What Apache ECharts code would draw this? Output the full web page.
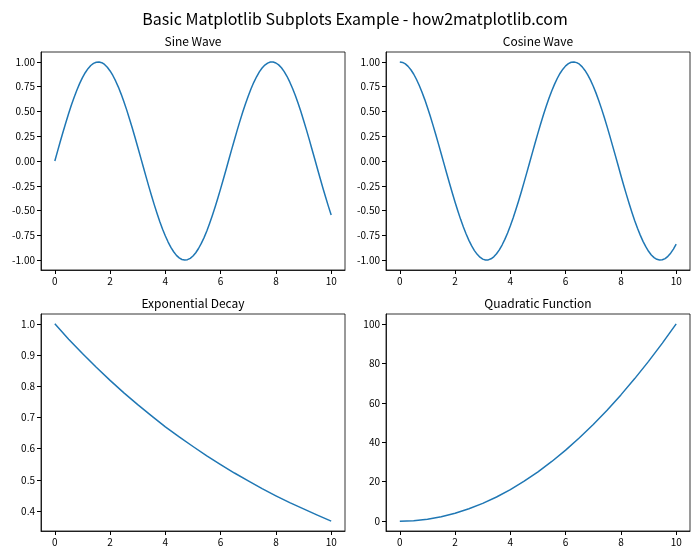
<!DOCTYPE html>
<html>
<head>
<meta charset="utf-8">
<script src="https://cdn.jsdelivr.net/npm/echarts@6/dist/echarts.min.js"></script>
<style>html,body{margin:0;padding:0;background:#fff;}#chart{width:700px;height:560px;}</style>
</head>
<body>
<div id="chart"></div>
<script>
// ---- data ----
var xFine = [0,0.1,0.2,0.3,0.4,0.5,0.6,0.7,0.8,0.9,1,1.1,1.2,1.3,1.4,1.5,1.6,1.7,1.8,1.9,2,2.1,2.2,2.3,2.4,2.5,2.6,2.7,2.8,2.9,3,3.1,3.2,3.3,3.4,3.5,3.6,3.7,3.8,3.9,4,4.1,4.2,4.3,4.4,4.5,4.6,4.7,4.8,4.9,5,5.1,5.2,5.3,5.4,5.5,5.6,5.7,5.8,5.9,6,6.1,6.2,6.3,6.4,6.5,6.6,6.7,6.8,6.9,7,7.1,7.2,7.3,7.4,7.5,7.6,7.7,7.8,7.9,8,8.1,8.2,8.3,8.4,8.5,8.6,8.7,8.8,8.9,9,9.1,9.2,9.3,9.4,9.5,9.6,9.7,9.8,9.9,10];
var sineY = [0,0.100,0.199,0.296,0.389,0.479,0.565,0.644,0.717,0.783,0.841,0.891,0.932,0.964,0.985,0.997,1.000,0.992,0.974,0.946,0.909,0.863,0.808,0.746,0.675,0.598,0.516,0.427,0.335,0.239,0.141,0.042,-0.058,-0.158,-0.256,-0.351,-0.443,-0.530,-0.612,-0.688,-0.757,-0.818,-0.872,-0.916,-0.952,-0.978,-0.994,-1.000,-0.996,-0.982,-0.959,-0.926,-0.883,-0.832,-0.773,-0.706,-0.631,-0.551,-0.465,-0.374,-0.279,-0.182,-0.083,0.017,0.117,0.215,0.312,0.405,0.494,0.578,0.657,0.729,0.794,0.850,0.899,0.938,0.968,0.988,0.999,0.999,0.989,0.970,0.941,0.902,0.855,0.798,0.734,0.663,0.585,0.501,0.412,0.319,0.223,0.124,0.025,-0.075,-0.174,-0.272,-0.366,-0.458,-0.544];
var cosineY = [1.000,0.995,0.980,0.955,0.921,0.878,0.825,0.765,0.697,0.622,0.540,0.454,0.362,0.267,0.170,0.071,-0.029,-0.129,-0.227,-0.323,-0.416,-0.505,-0.589,-0.666,-0.737,-0.801,-0.857,-0.904,-0.942,-0.971,-0.990,-0.999,-0.998,-0.987,-0.967,-0.936,-0.897,-0.848,-0.791,-0.726,-0.654,-0.575,-0.490,-0.401,-0.307,-0.211,-0.112,-0.012,0.087,0.187,0.284,0.378,0.469,0.554,0.635,0.709,0.776,0.835,0.886,0.927,0.960,0.983,0.997,1.000,0.993,0.977,0.950,0.914,0.869,0.816,0.754,0.685,0.608,0.526,0.439,0.347,0.251,0.153,0.054,-0.046,-0.146,-0.244,-0.339,-0.431,-0.519,-0.602,-0.679,-0.748,-0.811,-0.865,-0.911,-0.948,-0.975,-0.992,-1.000,-0.997,-0.985,-0.962,-0.930,-0.889,-0.839];
var xCoarse = [0,0.5,1,1.5,2,2.5,3,3.5,4,4.5,5,5.5,6,6.5,7,7.5,8,8.5,9,9.5,10];
var expY = [1.000,0.951,0.905,0.861,0.819,0.779,0.741,0.705,0.670,0.638,0.607,0.577,0.549,0.522,0.497,0.472,0.449,0.427,0.407,0.387,0.368];
var quadY = [0,0.25,1,2.25,4,6.25,9,12.25,16,20.25,25,30.25,36,42.25,49,56.25,64,72.25,81,90.25,100];

var xTicks = [0,2,4,6,8,10];
var trigTicks = [-1,-0.75,-0.5,-0.25,0,0.25,0.5,0.75,1];
var expTicks = [0.4,0.5,0.6,0.7,0.8,0.9,1.0];
var quadTicks = [0,20,40,60,80,100];

var mainTitle = 'Basic Matplotlib Subplots Example - how2matplotlib.com';
var subTitles = ['Sine Wave','Cosine Wave','Exponential Decay','Quadratic Function'];

// ---- layout ----
var FONT = '"Noto Sans CJK SC", "Noto Sans", sans-serif';
var grids = [
  {left:41, top:52, width:304, height:218},
  {left:386, top:52, width:304, height:218},
  {left:41, top:314, width:304, height:217},
  {left:386, top:314, width:304, height:217}
];
function pair(xs, ys){ return xs.map(function(x,i){ return [x, ys[i]]; }); }

var lineCol = {color:'#000', width:0.8};
var tickCol = {color:'#000', width:1};
function xAxis(i){
  return {
    type:'value', gridIndex:i, min:-0.5, max:10.5, position:'bottom',
    splitLine:{show:false},
    axisLine:{show:true, onZero:false, lineStyle:lineCol},
    axisTick:{show:true, length:4, inside:false, lineStyle:tickCol, customValues:xTicks},
    axisLabel:{customValues:xTicks, margin:6, color:'#000', fontSize:10, fontFamily:FONT}
  };
}
function yAxis(i, mn, mx, ticks, dec){
  return {
    type:'value', gridIndex:i, min:mn, max:mx, position:'left',
    splitLine:{show:false},
    axisLine:{show:true, onZero:false, lineStyle:lineCol},
    axisTick:{show:true, length:4, inside:false, lineStyle:tickCol, customValues:ticks},
    axisLabel:{customValues:ticks, margin:6, color:'#000', fontSize:10, fontFamily:FONT,
      formatter:function(v){ return v.toFixed(dec); }}
  };
}

var titleCenters = [[193,35],[538,35],[193,297],[538,297]];
var titles = [{text:mainTitle, left:350, top:6, textAlign:'center',
  textStyle:{fontSize:16, fontWeight:'normal', color:'#000', fontFamily:FONT}}];
subTitles.forEach(function(t,i){
  titles.push({text:t, left:titleCenters[i][0], top:titleCenters[i][1], textAlign:'center',
    padding:0, textStyle:{fontSize:12, fontWeight:'normal', color:'#000', fontFamily:FONT}});
});

function lineSeries(i, data){
  return {type:'line', xAxisIndex:i, yAxisIndex:i, data:data, showSymbol:false, smooth:false,
    lineStyle:{color:'#1f77b4', width:1.5, join:'round'}, itemStyle:{color:'#1f77b4'}, animation:false};
}

var option = {
  animation:false,
  backgroundColor:'#fff',
  title:titles,
  grid:grids.map(function(g){ return Object.assign({show:true, borderColor:'#000', borderWidth:0.8, backgroundColor:'transparent'}, g); }),
  xAxis:[xAxis(0),xAxis(1),xAxis(2),xAxis(3)],
  yAxis:[
    yAxis(0,-1.1,1.1,trigTicks,2),
    yAxis(1,-1.1,1.1,trigTicks,2),
    yAxis(2,0.3362,1.0316,expTicks,1),
    yAxis(3,-5,105,quadTicks,0)
  ],
  series:[
    lineSeries(0, pair(xFine, sineY)),
    lineSeries(1, pair(xFine, cosineY)),
    lineSeries(2, pair(xCoarse, expY)),
    lineSeries(3, pair(xCoarse, quadY))
  ]
};
var chart = echarts.init(document.getElementById('chart'), null, {renderer:'canvas'});
chart.setOption(option);
</script>
</body>
</html>
